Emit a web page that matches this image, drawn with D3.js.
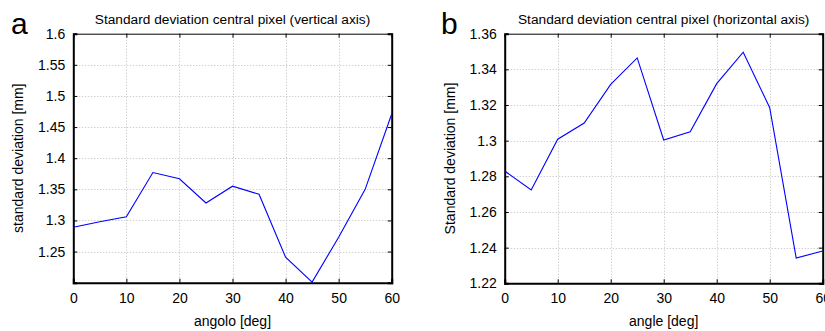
<!DOCTYPE html>
<html><head><meta charset="utf-8">
<script src="https://cdn.jsdelivr.net/npm/d3@7"></script>
<style>
html,body{margin:0;padding:0;background:#fff;}
svg{display:block;font-family:"Liberation Sans",Arial,sans-serif;}
</style></head>
<body>
<svg id="chart" width="825" height="331"></svg>
<script>
const anglesA = [0,5,10,15,20,25,30,35,40,45,50,55,60];
const valuesA = [1.289,1.298,1.306,1.377,1.367,1.328,1.355,1.342,1.241,1.201,1.273,1.350,1.471];
const anglesB = [0,5,10,15,20,25,30,35,40,45,50,55,60];
const valuesB = [1.283,1.2723,1.3008,1.3099,1.3316,1.3464,1.3004,1.305,1.332,1.3496,1.3185,1.2342,1.2381];
const xTicks = [0,10,20,30,40,50,60];
const yTicksA = [1.25,1.3,1.35,1.4,1.45,1.5,1.55,1.6];
const yTicksB = [1.22,1.24,1.26,1.28,1.3,1.32,1.34,1.36];

const svg = d3.select("#chart");

function panel(cfg){
  const g = svg.append("g");
  const x = d3.scaleLinear().domain([0,60]).range([cfg.x0,cfg.x1]);
  const y = d3.scaleLinear().domain(cfg.ydom).range([cfg.y1,cfg.y0]);
  // grid
  g.append("g").selectAll("line").data(xTicks.filter(d=>d>0&&d<60)).join("line")
    .attr("x1",d=>Math.round(x(d))+0.5).attr("x2",d=>Math.round(x(d))+0.5)
    .attr("y1",cfg.y0).attr("y2",cfg.y1)
    .attr("stroke","#bdbdbd").attr("stroke-width",1).attr("stroke-dasharray","1,2");
  g.append("g").selectAll("line").data(cfg.yticks.filter(d=>d>cfg.ydom[0]+1e-9&&d<cfg.ydom[1]-1e-9)).join("line")
    .attr("y1",d=>Math.round(y(d))+0.5).attr("y2",d=>Math.round(y(d))+0.5)
    .attr("x1",cfg.x0).attr("x2",cfg.x1)
    .attr("stroke","#bdbdbd").attr("stroke-width",1).attr("stroke-dasharray","1,2");
  // axes via d3 axis (ticks inward)
  const bottom = d3.axisBottom(x).tickValues(xTicks).tickSize(-4).tickPadding(10).tickFormat(d3.format("d"));
  const top = d3.axisTop(x).tickValues(xTicks).tickSize(-4).tickFormat("");
  const left = d3.axisLeft(y).tickValues(cfg.yticks).tickSize(-4).tickPadding(8).tickFormat(d=>String(+d.toFixed(2)));
  const right = d3.axisRight(y).tickValues(cfg.yticks).tickSize(-4).tickFormat("");
  const style = (sel,w)=>{sel.select(".domain").attr("stroke","#000").attr("stroke-width",w);
    sel.selectAll(".tick line").attr("stroke","#000").attr("stroke-width",1);
    sel.selectAll("text").attr("font-size",14).attr("fill","#000").attr("font-family","Liberation Sans, Arial, sans-serif");};
  g.append("g").attr("transform",`translate(0,${cfg.y0})`).call(top).call(s=>style(s,1));
  g.append("g").attr("transform",`translate(${cfg.x1},0)`).call(right).call(s=>style(s,2));
  g.append("g").attr("transform",`translate(0,${cfg.y1})`).call(bottom).call(s=>style(s,2));
  g.append("g").attr("transform",`translate(${cfg.x0},0)`).call(left).call(s=>style(s,2));
  g.selectAll(".domain").attr("fill","none");
  // line
  const line = d3.line().x((d,i)=>x(cfg.xs[i])).y(d=>y(d));
  g.append("path").datum(cfg.ys).attr("d",line).attr("fill","none")
    .attr("stroke","#0000ff").attr("stroke-width",1.1);
  // title
  g.append("text").attr("x",(cfg.x0+cfg.x1)/2).attr("y",24).attr("text-anchor","middle")
    .attr("font-size",13.7).text(cfg.title);
  // letter
  g.append("text").attr("x",cfg.lx).attr("y",33.5).attr("font-size",30).text(cfg.letter);
  // x label
  g.append("text").attr("x",(cfg.x0+cfg.x1)/2).attr("y",326).attr("text-anchor","middle")
    .attr("font-size",14).text(cfg.xlabel);
  // y label
  g.append("text").attr("transform",`translate(${cfg.ylx},${(cfg.y0+cfg.y1)/2}) rotate(-90)`)
    .attr("text-anchor","middle").attr("font-size",14).text(cfg.ylabel);
}

panel({x0:73.3,x1:391.7,y0:33.7,y1:282.7,ydom:[1.2,1.6],yticks:yTicksA,xs:anglesA,ys:valuesA,
  title:"Standard deviation central pixel (vertical axis)",letter:"a",lx:11,
  xlabel:"angolo [deg]",ylabel:"standard deviation [mm]",ylx:23});
panel({x0:504.7,x1:822.7,y0:33.7,y1:283.3,ydom:[1.22,1.36],yticks:yTicksB,xs:anglesB,ys:valuesB,
  title:"Standard deviation central pixel (horizontal axis)",letter:"b",lx:441,
  xlabel:"angle [deg]",ylabel:"Standard deviation [mm]",ylx:455});
</script>
</body></html>
